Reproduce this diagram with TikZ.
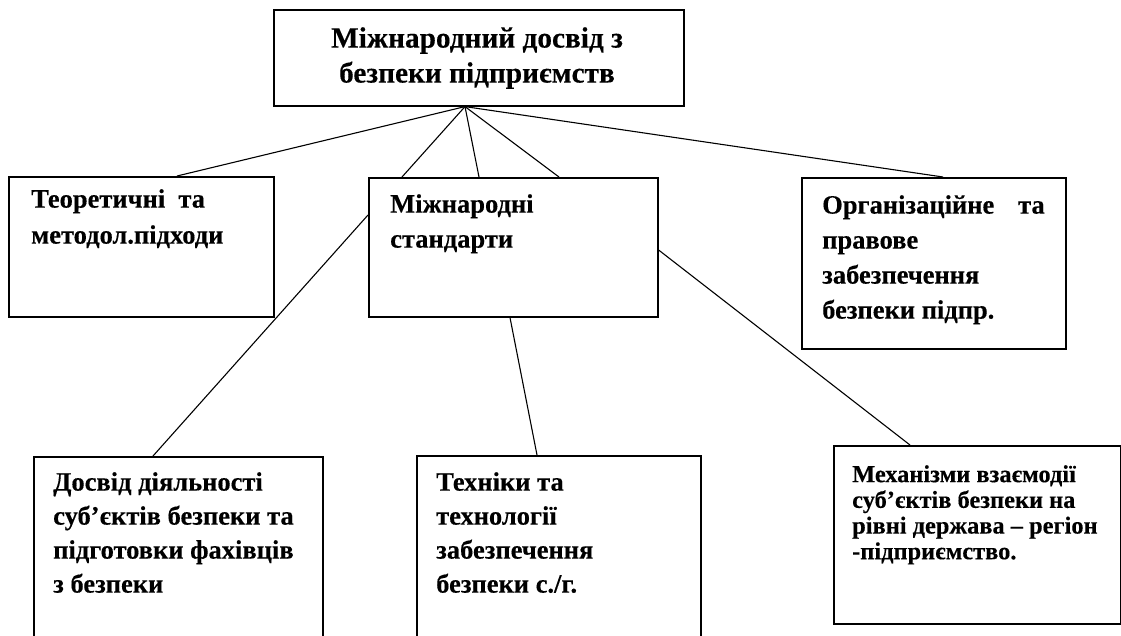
\documentclass[tikz,border=0pt]{standalone}
\usepackage{fontspec}
\setmainfont{Liberation Serif}[BoldFeatures={FakeBold=0.3}]
\begin{document}
\begin{tikzpicture}[x=1pt,y=-1pt,
  box/.style={draw,line width=1.6pt,rectangle,inner sep=0pt,anchor=north west},
  txt/.style={anchor=north west,inner sep=0pt,align=left,font=\bfseries\fontsize{26.5}{34}\selectfont},
  link/.style={line width=1.1pt}]
\useasboundingbox (0,0) rectangle (1121,635);
\clip (0,0) rectangle (1121,635);
% boxes
\node[box,minimum width=410pt,minimum height=96pt] (top) at (273,9) {};
\node[box,minimum width=265pt,minimum height=140pt] (left) at (8,176) {};
\node[box,minimum width=289pt,minimum height=139pt] (mid) at (368,177) {};
\node[box,minimum width=264pt,minimum height=171pt] (right) at (801,177) {};
\node[box,minimum width=289pt,minimum height=200pt] (bl) at (33,456) {};
\node[box,minimum width=284pt,minimum height=200pt] (bm) at (416,455) {};
\node[box,minimum width=287pt,minimum height=178pt] (br) at (833,445) {};
% texts
\node[inner sep=0pt,align=center,font=\bfseries\fontsize{29.3}{35}\selectfont] (ttop) at (477,58) {Міжнародний досвід з\\безпеки підприємств};
\node[txt,font=\bfseries\fontsize{26.5}{36}\selectfont] (tleft) at (31,189) {Теоретичні\ \ та\\методол.підходи};
\node[txt,font=\bfseries\fontsize{26.5}{35}\selectfont] (tmid) at (390,194) {Міжнародні\\стандарти};
\node[txt,font=\bfseries\fontsize{26.5}{35}\selectfont] (tright) at (822,195) {Організаційне\hspace{0.9em}та\\правове\\забезпечення\\безпеки підпр.};
\node[txt] (tbl) at (53,472) {Досвід діяльності\\суб’єктів безпеки та\\підготовки фахівців\\з безпеки};
\node[txt] (tbm) at (436,472) {Техніки та\\технології\\забезпечення\\безпеки с./г.};
\node[txt,font=\bfseries\fontsize{24.4}{25.7}\selectfont] (tbr) at (852,465) {Механізми взаємодії\\суб’єктів безпеки на\\рівні держава – регіон\\-підприємство.};
% connectors
\coordinate (apex) at ([xshift=192pt]top.south west);
\draw[link] (apex) -- ([xshift=169pt]left.north west);
\draw[link] (apex) -- ([xshift=34pt]mid.north west);
\draw[link] (apex) -- ([xshift=111pt]mid.north west);
\draw[link] (apex) -- ([xshift=191pt]mid.north west);
\draw[link] (apex) -- ([xshift=142pt]right.north west);
\draw[link] ([yshift=-38pt]mid.north west) -- ([xshift=120pt]bl.north west);
\draw[link] ([xshift=142pt]mid.south west) -- ([xshift=121pt]bm.north west);
\draw[link] ([yshift=-73pt]mid.north east) -- ([xshift=77pt]br.north west);
\end{tikzpicture}
\end{document}
